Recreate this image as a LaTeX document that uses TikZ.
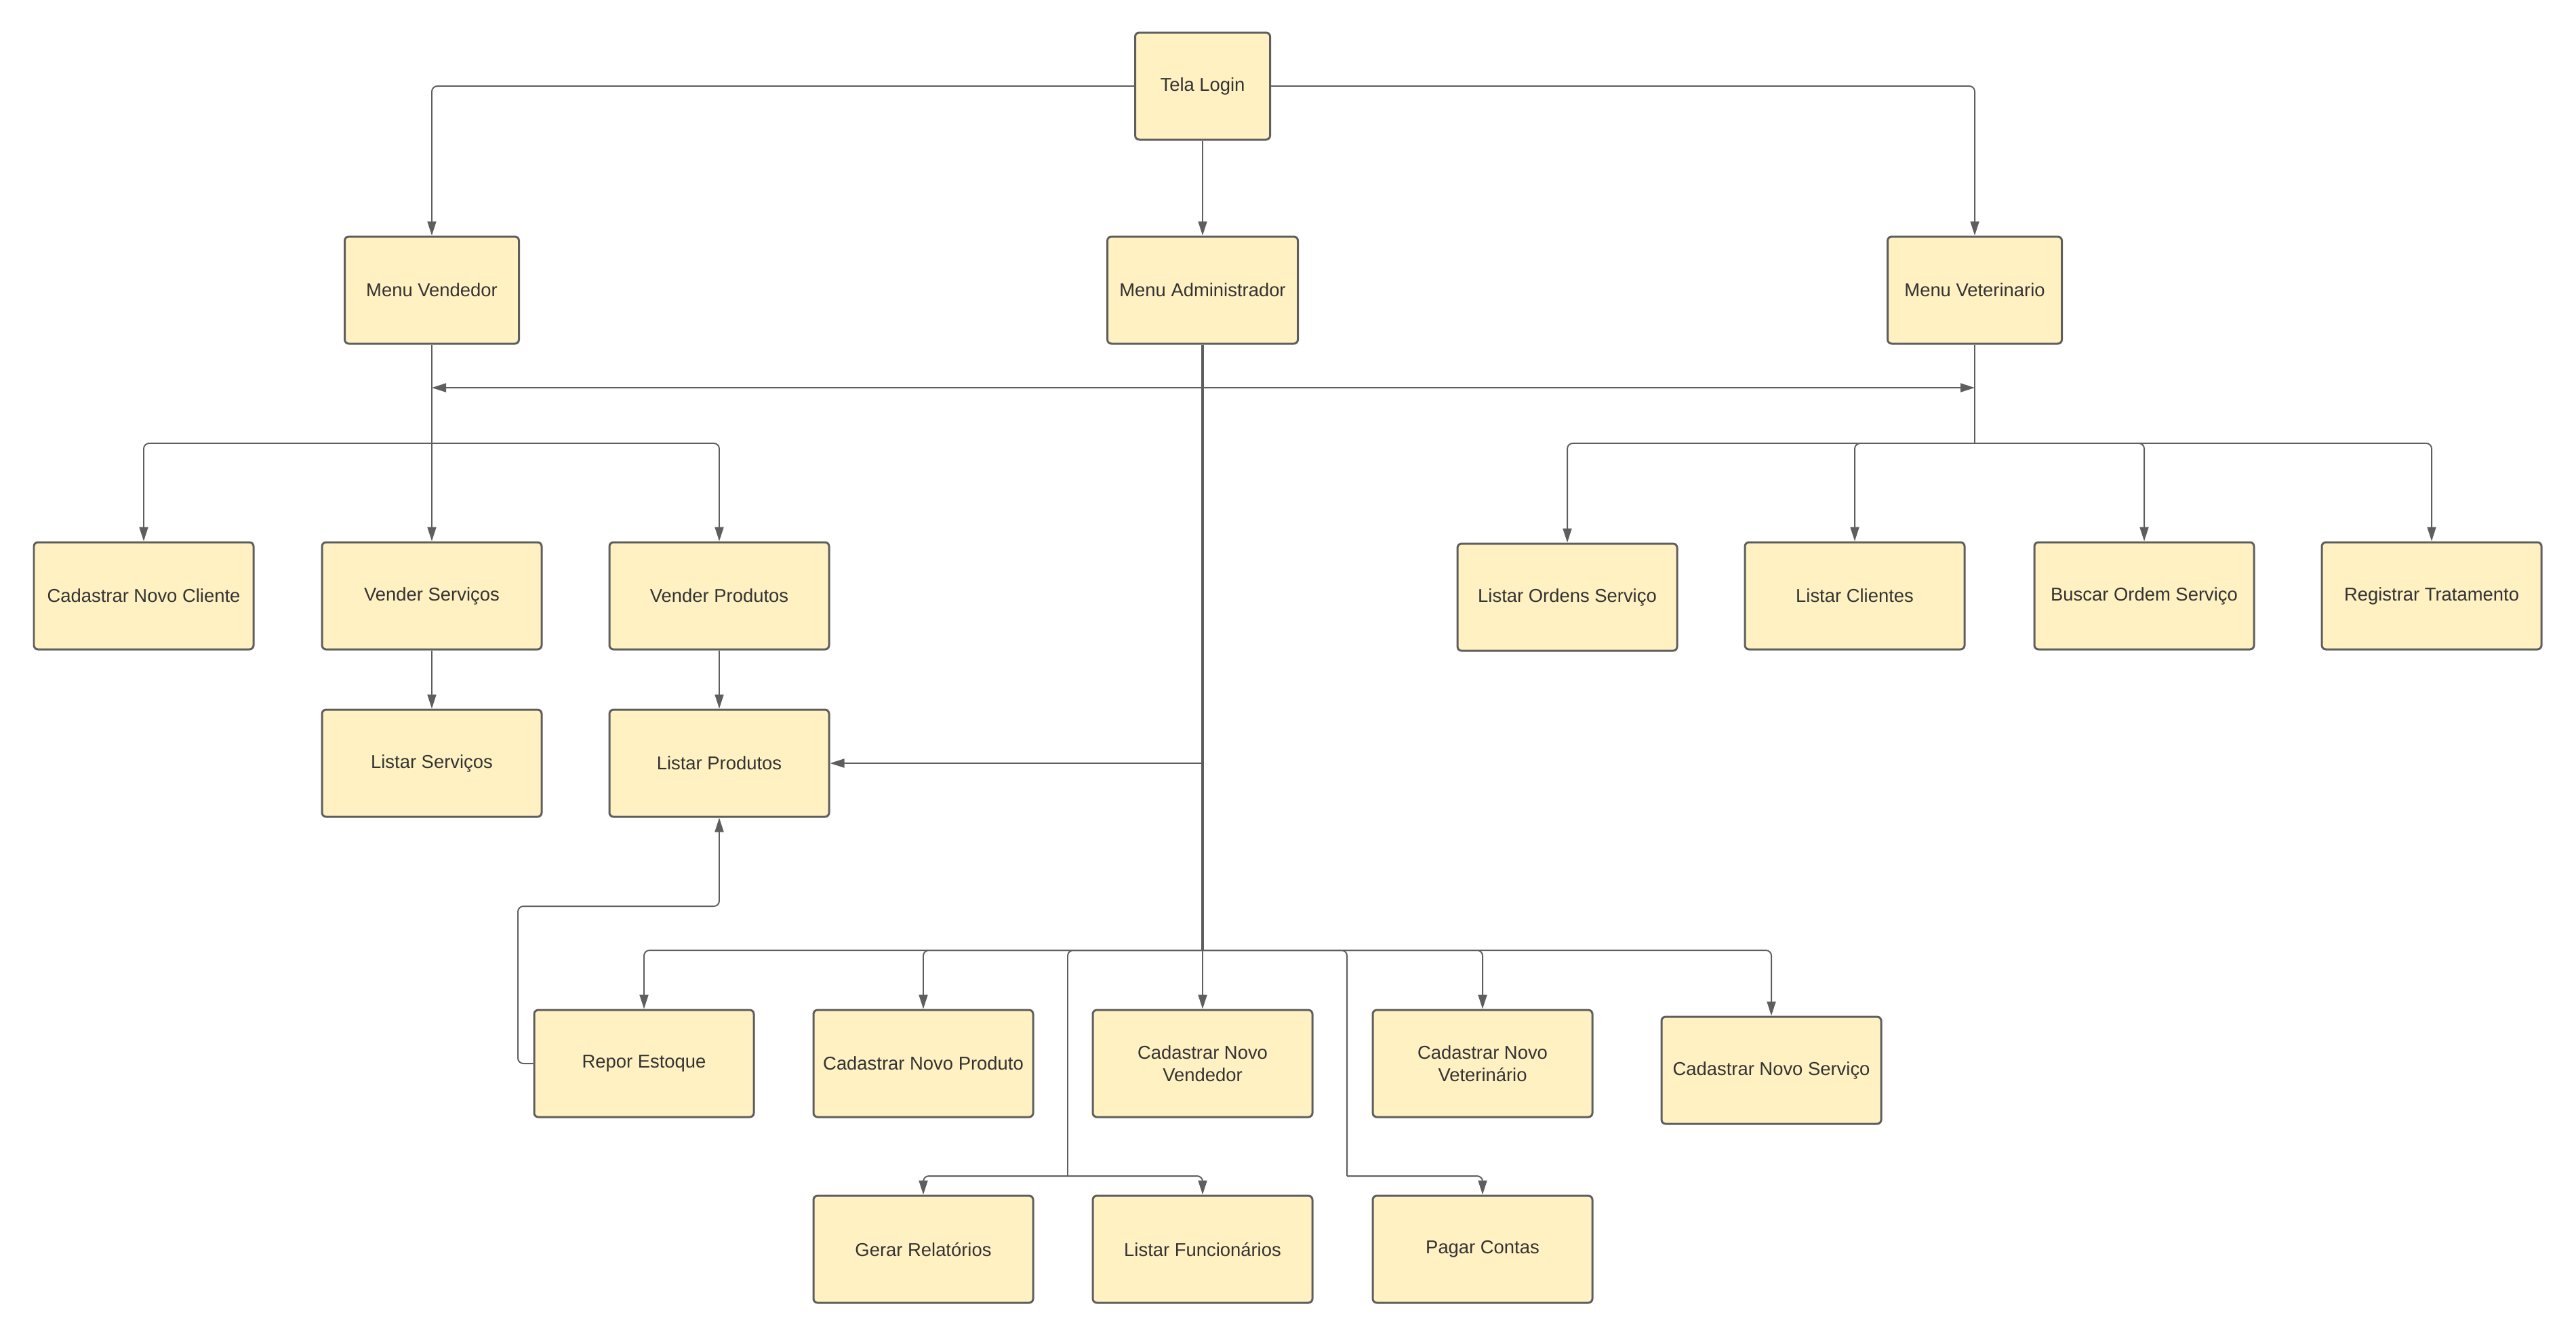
\documentclass[tikz,border=0pt]{standalone}
\usepackage{fontspec}
\setmainfont{Liberation Sans}
\usepackage{tikz}
\usetikzlibrary{arrows.meta,calc}
\usepackage{xcolor}
\definecolor{caixafundo}{HTML}{FFF1C2}
\definecolor{caixaborda}{HTML}{5E5E5E}
\definecolor{textocinza}{HTML}{333333}

\begin{document}
\begin{tikzpicture}[>={Triangle[length=0.21cm,width=0.13cm]},
    caixa/.style={draw=caixaborda, fill=caixafundo, line width=0.85pt, rounded corners=0.06cm,
        minimum width=3.24cm, minimum height=1.58cm, inner sep=0pt, align=center,
        text=textocinza, font=\fontsize{7.8}{9.4}\selectfont},
    linha/.style={draw=caixaborda, line width=0.55pt, rounded corners=0.08cm},
    liga/.style={linha, ->}]
    \useasboundingbox (0,0) rectangle (38,-19.73);

    % topo e menus
    \node[caixa, minimum width=1.99cm] (login) at (17.74,-1.27) {Tela Login};
    \node[caixa, minimum width=2.57cm] (mvend) at (6.37,-4.28) {Menu Vendedor};
    \node[caixa, minimum width=2.81cm] (madm) at (17.74,-4.28) {Menu Administrador};
    \node[caixa, minimum width=2.57cm] (mvet) at (29.13,-4.28) {Menu Veterinario};

    % vendedor
    \node[caixa] (ccli) at (2.12,-8.79) {Cadastrar Novo Cliente};
    \node[caixa] (vserv) at (6.37,-8.79) {Vender Serviços};
    \node[caixa] (vprod) at (10.61,-8.79) {Vender Produtos};
    \node[caixa] (lserv) at (6.37,-11.26) {Listar Serviços};
    \node[caixa] (lprod) at (10.61,-11.26) {Listar Produtos};

    % veterinario
    \node[caixa] (lord) at (23.12,-8.81) {Listar Ordens Serviço};
    \node[caixa] (lcli) at (27.36,-8.79) {Listar Clientes};
    \node[caixa] (bord) at (31.63,-8.79) {Buscar Ordem Serviço};
    \node[caixa] (rtrat) at (35.87,-8.79) {Registrar Tratamento};

    % administrador
    \node[caixa] (repor) at (9.50,-15.69) {Repor Estoque};
    \node[caixa] (cprod) at (13.62,-15.69) {Cadastrar Novo Produto};
    \node[caixa] (cvend) at (17.74,-15.69) {Cadastrar Novo\\Vendedor};
    \node[caixa] (cvet) at (21.87,-15.69) {Cadastrar Novo\\Veterinário};
    \node[caixa] (cserv) at (26.13,-15.79) {Cadastrar Novo Serviço};
    \node[caixa] (grel) at (13.62,-18.43) {Gerar Relatórios};
    \node[caixa] (lfunc) at (17.74,-18.43) {Listar Funcionários};
    \node[caixa] (pcont) at (21.87,-18.43) {Pagar Contas};

    \coordinate (bv) at (6.37,-6.54);
    \coordinate (bt) at (29.13,-6.54);
    \coordinate (ha) at (17.74,-5.72);
    \coordinate (ba) at (17.74,-14.02);
    \coordinate (ra) at (15.75,-14.02);
    \coordinate (ra2) at (15.75,-17.35);
    \coordinate (rb) at (19.87,-14.02);
    \coordinate (rb2) at (19.87,-17.35);
    \coordinate (rv) at (7.64,-13.37);

    \draw[liga] (login.west) -| (mvend.north);
    \draw[liga] (login.east) -| (mvet.north);
    \draw[liga] (login) -- (madm);

    \draw[linha] (mvend.south) -- (bv);
    \foreach \n in {ccli,vserv,vprod}
        \draw[liga] (bv) -| (\n.north);
    \draw[liga] (vserv) -- (lserv);
    \draw[liga] (vprod) -- (lprod);

    \draw[linha] (mvet.south) -- (bt);
    \foreach \n in {lord,lcli,bord,rtrat}
        \draw[liga] (bt) -| (\n.north);

    \draw[linha, line width=0.9pt] (madm.south) -- (ba);
    \draw[liga] (ha) -- (ha -| mvend);
    \draw[liga] (ha) -- (ha -| mvet);
    \draw[liga] (madm |- lprod) -- (lprod.east);
    \foreach \n in {repor,cprod,cvend,cvet,cserv}
        \draw[liga] (ba) -| (\n.north);
    \draw[linha] (ba) -- (ra) -- (ra2);
    \draw[liga] (ra2) -| (grel.north);
    \draw[liga] (ra2) -| (lfunc.north);
    \draw[linha] (ba) -- (rb) -- (rb2);
    \draw[liga] (rb2) -| (pcont.north);

    \draw[liga] (repor.west) -| (rv) -| (lprod.south);
\end{tikzpicture}
\end{document}
